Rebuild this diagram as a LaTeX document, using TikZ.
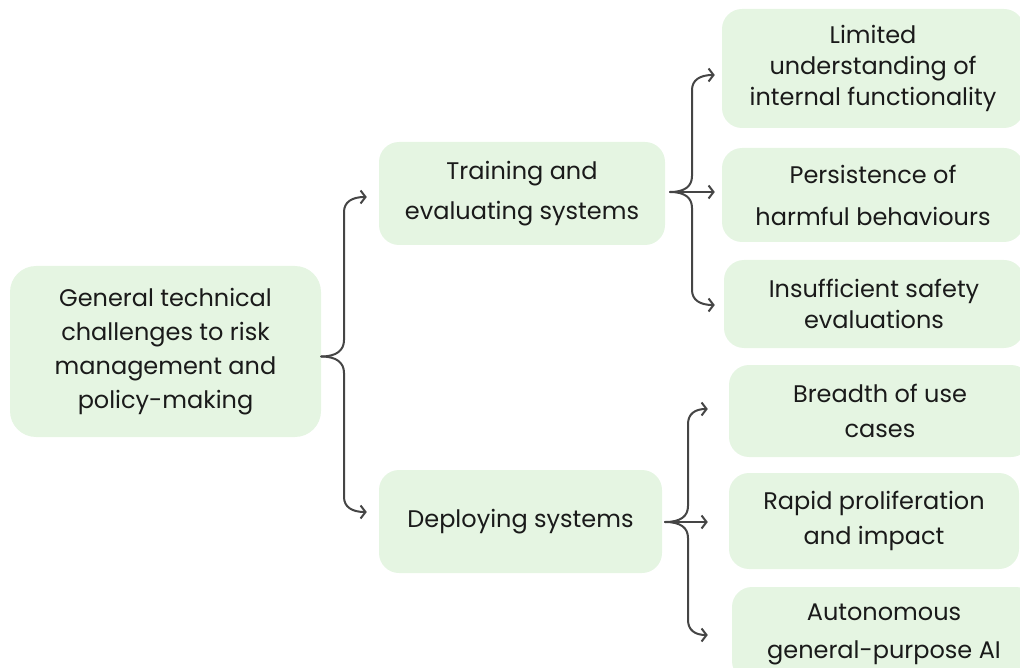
\documentclass[tikz,border=0pt]{standalone}
\usepackage{fontspec}
\setmainfont{Poppins}
\usetikzlibrary{arrows.meta}
\definecolor{boxfill}{HTML}{E5F5E2}
\definecolor{linec}{HTML}{454545}
\definecolor{txt}{HTML}{1A1A1A}
\begin{document}
\begin{tikzpicture}[x=1pt,y=-1pt,
  box/.style={fill=boxfill, rounded corners=20pt, align=center, inner sep=0pt,
    text=txt, font=\fontsize{24}{#1}\selectfont},
  box/.default=34pt,
  conn/.style={draw=linec, line width=2pt, line cap=round,
    -{Straight Barb[length=5pt,width=13pt]}}]
\useasboundingbox (0,0) rectangle (1020,668);
% nodes
\node[box=34pt, rounded corners=26pt, minimum width=311pt, minimum height=171pt] (root) at (165.5,351.5)
  {General technical\\challenges to risk\\management and\\policy-making};
\node[box=40pt, minimum width=286pt, minimum height=103pt] (train) at (522,193.5)
  {Training and\\evaluating systems};
\node[box, minimum width=283pt, minimum height=103pt] (deploy) at (520.5,521.5)
  {Deploying systems};
\node[box=31pt, minimum width=302pt, minimum height=119pt] (b1) at (873,68.5)
  {Limited\\understanding of\\internal functionality};
\node[box=42pt, minimum width=302pt, minimum height=94pt] (b2) at (873,195)
  {Persistence of\\harmful behaviours};
\node[box=31pt, minimum width=300pt, minimum height=88pt] (b3) at (874,304)
  {Insufficient safety\\evaluations};
\node[box=35pt, minimum width=302pt, minimum height=92pt] (b4) at (880,411)
  {Breadth of use\\cases};
\node[box=35pt, minimum width=290pt, minimum height=96pt] (b5) at (874,521)
  {Rapid proliferation\\and impact};
\node[box=38pt, minimum width=304pt, minimum height=94pt] (b6) at (884,634)
  {Autonomous\\general-purpose AI};
% root brace
\draw[conn] ([yshift=-5pt]root.east) .. controls (337,356.5) and (344,350) .. (344,340)
  -- (344,212) .. controls (344,202) and (352,197) .. ([xshift=-12pt,yshift=-3.5pt]train.west);
\draw[conn] ([yshift=-5pt]root.east) .. controls (337,356.5) and (344,363) .. (344,373)
  -- (344,497) .. controls (344,507) and (352,512) .. ([xshift=-12pt,yshift=9.5pt]deploy.west);
% training brace
\draw[conn] ([xshift=5pt,yshift=1.5pt]train.east) .. controls (685,192) and (692,186) .. (692,176)
  -- (692,90) .. controls (692,80) and (700,75) .. ([xshift=-7pt,yshift=-6.5pt]b1.west);
\draw[conn] ([xshift=5pt,yshift=1.5pt]train.east) -- ([xshift=-7pt,yshift=3pt]b2.west);
\draw[conn] ([xshift=5pt,yshift=1.5pt]train.east) .. controls (685,192) and (692,198) .. (692,208)
  -- (692,290) .. controls (692,300) and (700,305) .. ([xshift=-9pt,yshift=-1pt]b3.west);
% deploying brace
\draw[conn] ([xshift=3pt,yshift=-0.5pt]deploy.east) .. controls (681,522) and (688,516) .. (688,506)
  -- (688,424) .. controls (688,414) and (695,409) .. ([xshift=-21pt,yshift=2pt]b4.west);
\draw[conn] ([xshift=3pt,yshift=-0.5pt]deploy.east) -- ([xshift=-21pt,yshift=-1pt]b5.west);
\draw[conn] ([xshift=3pt,yshift=-0.5pt]deploy.east) .. controls (681,522) and (688,528) .. (688,538)
  -- (688,620) .. controls (688,630) and (695,635) .. ([xshift=-24pt,yshift=-1pt]b6.west);
\end{tikzpicture}
\end{document}
